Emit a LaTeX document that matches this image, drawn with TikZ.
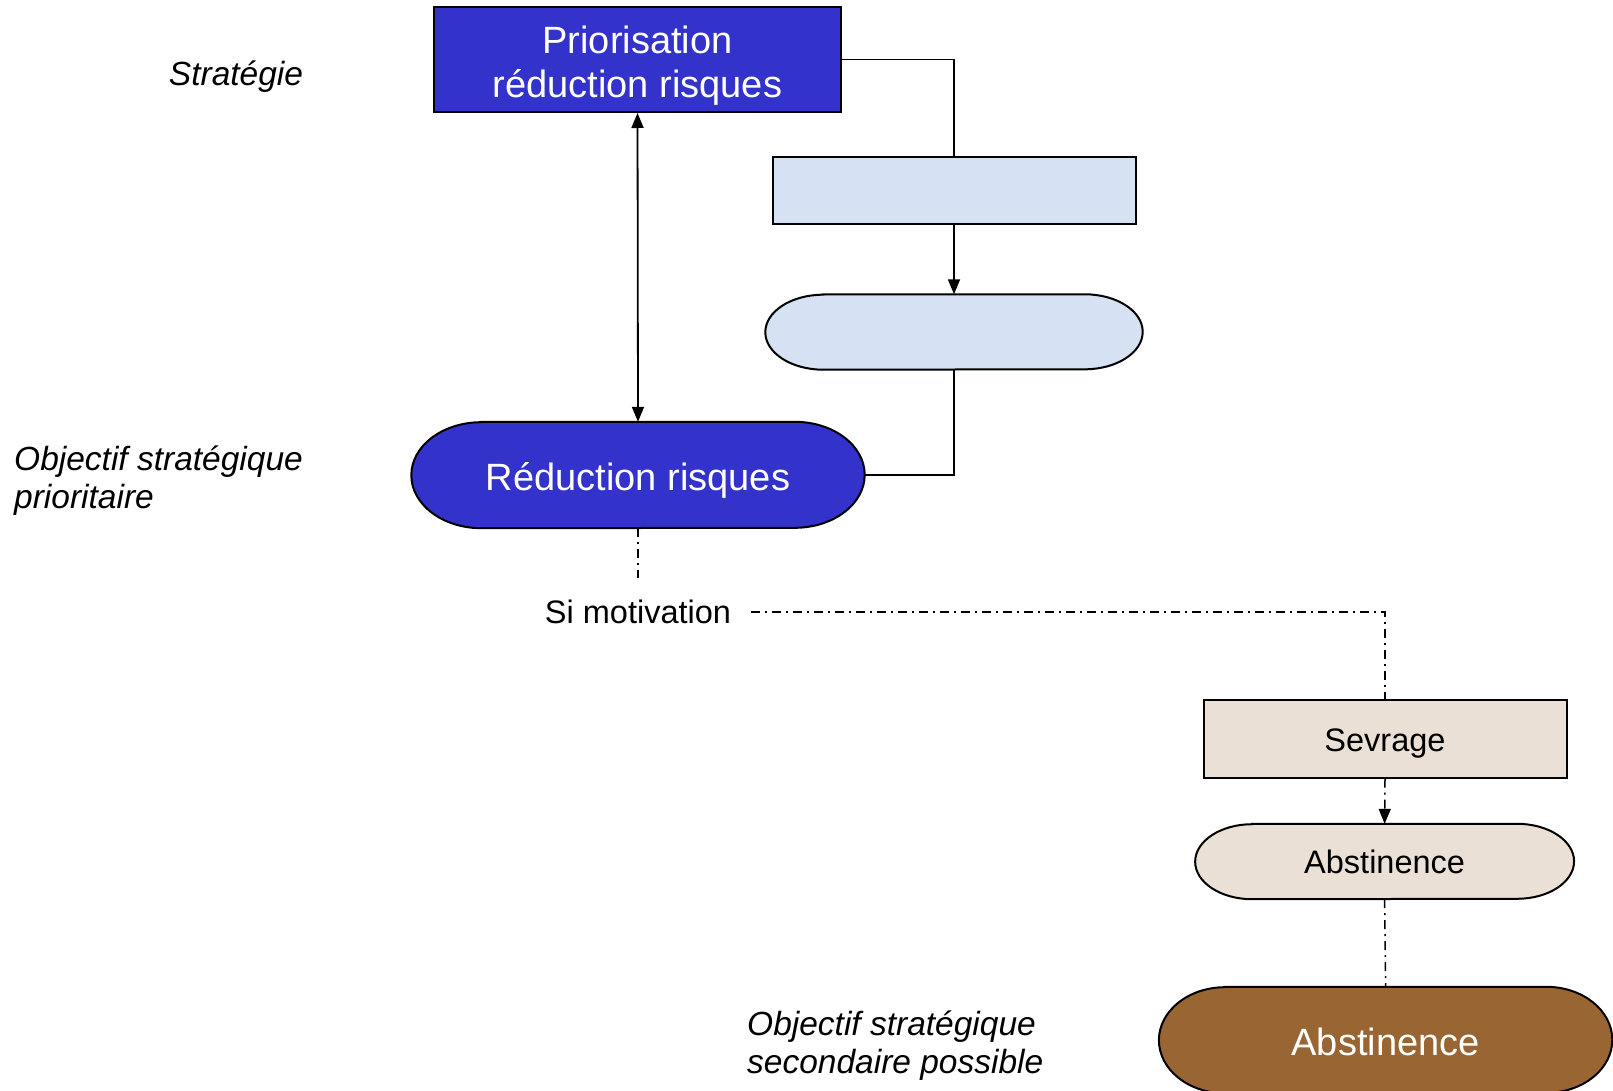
\documentclass[tikz,border=0pt]{standalone}
\usepackage{fontspec}
\setmainfont{Liberation Sans}
\usetikzlibrary{arrows.meta,calc}
\definecolor{dblue}{HTML}{3333CC}
\definecolor{lblue}{HTML}{D6E1F4}
\definecolor{beigec}{HTML}{EAE0D6}
\definecolor{mybrown}{HTML}{996633}
\pgfdeclarelayer{bg}
\pgfsetlayers{bg,main}
\newcommand\stadshape[4]{%
  \begin{pgfonlayer}{bg}
  \draw[#4] ([xshift=#2]#1.north west) -- ([xshift=-#2]#1.north east)
    arc[start angle=90,end angle=-90,x radius=#2,y radius=#3]
    -- ([xshift=#2]#1.south west)
    arc[start angle=270,end angle=90,x radius=#2,y radius=#3] -- cycle;
  \end{pgfonlayer}}
\tikzset{
  box/.style={rectangle, inner sep=0pt, align=center, draw=black, line width=2pt},
  stad/.style={rectangle, inner sep=0pt, align=center, draw=none},
  stadline/.style={draw=black, line width=2pt},
  bigtxt/.style={font=\fontsize{38}{44}\selectfont, text=white, text depth=0pt, text height=31pt},
  smalltxt/.style={font=\fontsize{32.5}{38}\selectfont, text=black, text depth=0pt, text height=26pt},
  lbl/.style={font=\fontsize{33.5}{38}\selectfont\itshape, align=left, inner sep=0pt},
  conn/.style={line width=1.8pt, draw=black},
  tip/.style={-{Triangle[length=15pt,width=12pt]}},
  dtip/.style={{Triangle[length=15pt,width=12pt]}-{Triangle[length=15pt,width=12pt]}},
  dashdot/.style={line width=1.5pt, dash pattern=on 9pt off 5pt on 2pt off 5pt},
}
\begin{document}
\begin{tikzpicture}[x=1pt,y=-1pt]
\useasboundingbox (0,0) rectangle (1613,1091);

% nodes
\node[box, fill=dblue, bigtxt, text height=76pt, minimum width=407pt, minimum height=105pt] (prio) at (637.5,59.5) {Priorisation\\réduction risques};
\node[box, fill=lblue, minimum width=363pt, minimum height=67pt] (rect) at (954,191) {};
\node[stad, minimum width=377pt, minimum height=75pt] (lstad) at (954,332) {};
\stadshape{lstad}{58pt}{37.5pt}{stadline, fill=lblue}
\node[stad, bigtxt, minimum width=453pt, minimum height=106pt] (red) at (638,475) {Réduction risques};
\stadshape{red}{70pt}{53pt}{stadline, fill=dblue}
\node[smalltxt, text height=23pt, inner xsep=20pt, inner ysep=0pt] (simot) at (638,612) {Si motivation};
\coordinate (m1) at (638,578);
\node[box, fill=beigec, smalltxt, minimum width=363pt, minimum height=78pt] (sev) at (1385,738.6) {Sevrage};
\node[stad, smalltxt, text height=24pt, minimum width=378.5pt, minimum height=75pt] (abs1) at (1384.6,861.5) {Abstinence};
\stadshape{abs1}{57pt}{37.5pt}{stadline, fill=beigec}
\node[stad, bigtxt, minimum width=453pt, minimum height=106pt] (abs2) at (1385.6,1040) {Abstinence};
\stadshape{abs2}{66pt}{53pt}{stadline, fill=mybrown}

% labels
\node[lbl] (lab1) at (236,77) {Stratégie};
\node[lbl, anchor=west] (lab2) at (14,481) {Objectif stratégique\\prioritaire};
\node[lbl, anchor=west] (lab3) at (747,1046) {Objectif stratégique\\secondaire possible};

% connectors
\draw[conn] (prio.east) -| (rect.north);
\draw[conn, tip] (rect.south) -- (lstad.north);
\draw[conn] (lstad.south) |- (red.east);
\draw[conn, dtip] (prio.south) -- (red.north);
\draw[dashdot] (red.south) -- (m1);
\draw[dashdot] (simot.east) -| (sev.north);
\draw[dashdot, tip] (sev.south) -- (abs1.north);
\draw[dashdot] (abs1.south) -- (abs2.north);
\end{tikzpicture}
\end{document}
